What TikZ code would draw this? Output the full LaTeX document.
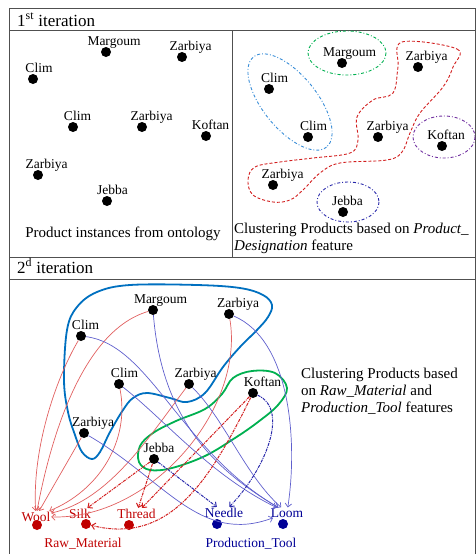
\documentclass[tikz,border=0pt]{standalone}
\usepackage{fontspec}
\setmainfont{Liberation Serif}
\usepackage{tikz}
\usetikzlibrary{arrows,arrows.meta,calc}

\definecolor{rawred}{RGB}{192,0,0}
\definecolor{toolblue}{RGB}{0,0,150}
\definecolor{thinred}{RGB}{225,95,95}
\definecolor{thinblue}{RGB}{95,95,205}
\definecolor{clublue}{RGB}{0,112,192}
\definecolor{clugreen}{RGB}{0,176,80}
\definecolor{dblue}{RGB}{55,140,215}
\definecolor{dred}{RGB}{210,30,30}
\definecolor{dpurple}{RGB}{112,48,160}
\definecolor{dnavy}{RGB}{40,40,170}
\definecolor{framegray}{RGB}{80,80,80}

\tikzset{
  >={Straight Barb[length=3.5pt,width=6.5pt]},
  pdot/.style={circle,fill=black,inner sep=0pt,minimum size=10pt},
  lbl/.style={inner sep=0.5pt,font=\fontsize{13.5}{15}\selectfont},
  reslbl/.style={inner sep=0.5pt,font=\fontsize{13.5}{15}\selectfont},
  txt/.style={inner sep=0pt,font=\fontsize{15}{17}\selectfont},
  headtxt/.style={inner sep=0pt,font=\fontsize{17}{19}\selectfont},
  rawedge/.style={->,thinred,line width=0.7pt},
  tooledge/.style={->,thinblue,line width=0.7pt},
  rawlink/.style={->,dred,line width=1pt,densely dashdotted},
  toollink/.style={->,dnavy,line width=1pt,densely dashdotted},
  clu/.style={line width=0.9pt,dashdotted},
}

\begin{document}
\begin{tikzpicture}[x=1pt,y=-1pt]
\useasboundingbox (0,0) rectangle (476,554);
\draw[framegray,line width=0.8pt] (9,8) -- (475,8) (9,30) -- (475,30) (9,257) -- (475,257)
  (9,279) -- (475,279) (232,30) -- (232,257) (9,8) -- (9,554) (475,8) -- (475,554);

\node[headtxt,anchor=base west] (it1) at (17,26) {1\textsuperscript{st} iteration};
\node[headtxt,anchor=base west] (it2) at (17,273) {2\textsuperscript{d} iteration};

\foreach \nm/\x/\y/\lab/\dx in {a/106/52/Margoum/8, b/182/57/Zarbiya/8.5, c/33/79/Clim/6,
  d/73/127/Clim/4.5, e/142/127/Zarbiya/9.5, f/206/136/Koftan/4.5, g/38/175/Zarbiya/8.5,
  h/107/201/Jebba/5.5}
{
  \node[pdot] (p\nm) at (\x,\y) {};
  \node[lbl,anchor=base] (p\nm t) at ($(p\nm)+(\dx,-7)$) {\lab};
}
\node[txt,anchor=base] (cap1) at (123,237) {Product instances from ontology};

\draw[clu,clugreen] (347,53) ellipse [x radius=39,y radius=22];
\draw[clu,dblue,rotate around={-51:(290,102)}] (290,102) ellipse [x radius=58,y radius=27];
\draw[clu,dpurple] (444,137) ellipse [x radius=31,y radius=21];
\draw[clu,dnavy] (348,202) ellipse [x radius=31,y radius=20];
\draw[dred,line width=0.9pt,densely dashed] plot[smooth cycle,tension=0.6] coordinates {
  (402,42) (457,49) (453,67) (443,87) (420,113) (410,133) (402,152) (387,160) (340,163)
  (320,173) (303,190) (290,200) (273,202) (253,195) (248,180) (255,167) (280,162)
  (313,158) (350,153) (358,140) (357,117) (373,100) (393,93) (398,67)};

\foreach \nm/\x/\y/\lab/\dx in {a/342/63/Margoum/7.5, b/418/67/Zarbiya/8.5, c/269/89/Clim/5.5,
  d/308/137/Clim/5.5, e/378/137/Zarbiya/9.5, f/442/146/Koftan/4, g/273/185/Zarbiya/9.5,
  h/343/212/Jebba/4.5}
{
  \node[pdot] (q\nm) at (\x,\y) {};
  \node[lbl,anchor=base] (q\nm t) at ($(q\nm)+(\dx,-7)$) {\lab};
}
\node[txt,anchor=base west] (cap2a) at (234,233) {Clustering Products based on \textit{Product\_}};
\node[txt,anchor=base west] (cap2b) at (234,250) {\textit{Designation} feature};

\draw[clublue,line width=1.8pt] plot[smooth cycle,tension=0.6] coordinates {
  (64,380) (67,330) (77,307) (97,292) (130,285) (197,285) (240,288) (263,295) (272,305)
  (268,317) (257,330) (240,347) (223,367) (205,393) (187,402) (170,398) (147,393)
  (133,398) (123,410) (110,432) (100,452) (92,459) (82,452) (75,435) (68,412)};
\draw[clugreen,line width=1.8pt] plot[smooth cycle,tension=0.6] coordinates {
  (233,378) (252,371) (275,373) (287,388) (278,405) (258,422) (235,438) (205,456)
  (172,468) (150,470) (139,462) (140,446) (153,433) (176,421) (205,409) (222,394)};

\foreach \nm/\x/\y/\lab/\dx in {m/153/310/Margoum/7.5, zt/229/314/Zarbiya/9, ct/81/336/Clim/4.5,
  cm/119/384/Clim/5.5, zm/189/384/Zarbiya/6.5, k/253/393/Koftan/9.5, zl/84/433/Zarbiya/9,
  j/154/459/Jebba/5}
{
  \node[pdot] (\nm) at (\x,\y) {};
  \node[lbl,anchor=base] (\nm t) at ($(\nm)+(\dx,-7)$) {\lab};
}

\node[reslbl,rawred,anchor=base] (woolt) at (36,521) {Wool};
\node[reslbl,rawred,anchor=base] (silkt) at (80,518) {Silk};
\node[reslbl,rawred,anchor=base] (threadt) at (136.5,518) {Thread};
\node[reslbl,toolblue,anchor=base] (needlet) at (224,517) {Needle};
\node[reslbl,toolblue,anchor=base] (loomt) at (287,517) {Loom};
\node[pdot,fill=rawred] (wool) at (37,525) {};
\node[pdot,fill=rawred] (silk) at (86,524) {};
\node[pdot,fill=rawred] (thread) at (129,525) {};
\node[pdot,fill=toolblue] (needle) at (217,524) {};
\node[pdot,fill=toolblue] (loom) at (283,524) {};
\node[reslbl,rawred,anchor=base] (rawt) at (83,547) {Raw\_Material};
\node[reslbl,toolblue,anchor=base] (toolt) at (251,547) {Production\_Tool};

\draw[rawedge] (ct) .. controls (55,380) and (32,450) .. (woolt);
\draw[rawedge] (m) .. controls (85,330) and (52,430) .. (woolt);
\draw[rawedge] (cm) .. controls (130,440) and (100,490) .. (woolt);
\draw[rawedge] (zm) .. controls (150,435) and (110,500) .. (woolt);
\draw[rawedge] (zt) .. controls (245,410) and (150,520) .. (woolt);
\draw[rawedge] (zl) -- (woolt);

\draw[tooledge] (m) .. controls (162,420) and (215,470) .. (loomt);
\draw[tooledge] (ct) .. controls (150,345) and (180,450) .. (loomt);
\draw[tooledge] (cm) .. controls (165,420) and (210,475) .. (loomt);
\draw[tooledge] (zm) .. controls (225,420) and (245,475) .. (loomt);
\draw[tooledge] (zt) .. controls (290,340) and (298,440) .. (loomt);
\draw[tooledge] (zl) .. controls (165,480) and (200,545) .. (loomt);

\draw[toollink] (j) -- (needlet);
\draw[toollink] (k) .. controls (290,410) and (265,470) .. (needlet);
\draw[rawlink] (j) -- (silkt);
\draw[rawlink] (j) -- (threadt);
\draw[rawlink] (k) -- (threadt);
\draw[rawlink] (k) .. controls (210,480) and (170,545) .. (silk);

\node[txt,anchor=base west] (cap3a) at (301,378) {Clustering Products based};
\node[txt,anchor=base west] (cap3b) at (301,395) {on \textit{Raw\_Material} and};
\node[txt,anchor=base west] (cap3c) at (301,412) {\textit{Production\_Tool} features};
\end{tikzpicture}
\end{document}
